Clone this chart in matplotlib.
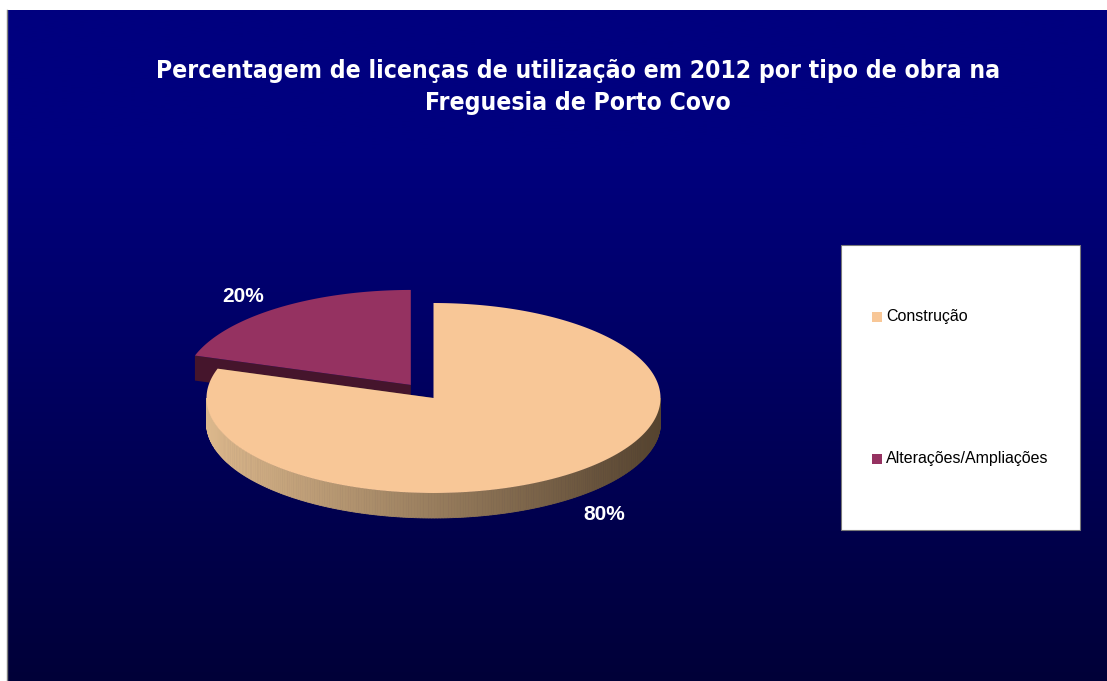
import numpy as np
import matplotlib
matplotlib.use("Agg")
import matplotlib.pyplot as plt
from matplotlib.patches import Polygon, Rectangle
from matplotlib import font_manager
from matplotlib.colors import to_rgb

# ---- data ----
categories = ["Construção", "Alterações/Ampliações"]
values = [80, 20]
pct_labels = ["80%", "20%"]
colors = ["#f8c797", "#953261"]
side_colors = [("#dcb88c", "#55432f"), ("#45152c", "#45152c")]
explode = [0.0, 0.17]
title = "Percentagem de licenças de utilização em 2012 por tipo de obra na\nFreguesia de Porto Covo"

fl = font_manager.fontManager.ttflist
cond = [f for f in fl if f.stretch in ("condensed", "semi-condensed", "extra-condensed",
                                       "ultra-condensed") or (isinstance(f.stretch, int) and f.stretch < 500)
        or "Narrow" in f.name or "Condensed" in f.name]
cond_names = sorted({f.name for f in cond})
title_kw = dict(family="Liberation Sans", fontsize=17.5)
if "Liberation Sans Narrow" in cond_names:
    title_kw = dict(family="Liberation Sans Narrow", fontsize=21)
elif any(f.name == "DejaVu Sans" for f in cond):
    title_kw = dict(family="DejaVu Sans", fontstretch="condensed", fontsize=17.7)

W, H = 1107, 681
fig = plt.figure(figsize=(W / 100, H / 100), dpi=100)
ax = fig.add_axes([0, 0, 1, 1])
ax.set_xlim(0, W)
ax.set_ylim(H, 0)
ax.axis("off")

# background
ax.add_patch(Rectangle((0, 0), W, H, color="white", zorder=0))
x0, y0 = 7, 10
ys = np.linspace(0, 1, 300)
top = np.array(to_rgb("#00007f"))
bot = np.array(to_rgb("#000038"))
t = np.clip((ys * (H - y0) - 140) / (H - y0 - 140), 0, 1)
grad = (top[None, :] * (1 - t[:, None]) + bot[None, :] * t[:, None])[:, None, :]
ax.imshow(grad, extent=(x0, W, H, y0), aspect="auto", zorder=1, interpolation="bilinear")
ax.plot([x0, x0], [y0, H], color="#808080", lw=1, zorder=1.5)

# pie geometry (pixel coordinates)
cx, cy = 433.5, 398
rx, ry = 227, 95
depth = 25


def pt(theta_deg, ox, oy):
    th = np.radians(theta_deg)
    return ox + rx * np.cos(th), oy - ry * np.sin(th)


total = float(sum(values))
start = 90.0
wedges = []
for i, v in enumerate(values):
    span = 360.0 * v / total
    t1 = start - span  # clockwise
    wedges.append((t1, start))
    start = t1

order = [1, 0]
for i in order:
    t1, t2 = wedges[i]
    mid = np.radians((t1 + t2) / 2)
    ox = cx + explode[i] * rx * np.cos(mid)
    oy = cy - explode[i] * ry * np.sin(mid)
    c_light = np.array(to_rgb(side_colors[i][0]))
    c_dark = np.array(to_rgb(side_colors[i][1]))
    z = 3 + (0 if i == 1 else 5)
    for ang in (t1, t2):
        px, py = pt(ang, ox, oy)
        quad = [(ox, oy), (px, py), (px, py + depth), (ox, oy + depth)]
        ax.add_patch(Polygon(quad, closed=True, facecolor=c_dark, edgecolor="none", zorder=z))
    angs = np.linspace(t1, t2, 400)
    for a, b in zip(angs[:-1], angs[1:]):
        am = (a + b) / 2 % 360
        if not (180 <= am <= 360):
            continue
        xa, ya = pt(a, ox, oy)
        xb, yb = pt(b, ox, oy)
        f = ((xa + xb) / 2 - (ox - rx)) / (2 * rx)
        col = c_light * (1 - f) + c_dark * f
        ax.add_patch(Polygon([(xa, ya), (xb, yb), (xb, yb + depth), (xa, ya + depth)],
                             closed=True, facecolor=col, edgecolor=col, lw=0.6, zorder=z + 1))
    angs = np.linspace(t1, t2, 300)
    pts = [(ox, oy)] + [pt(a, ox, oy) for a in angs]
    ax.add_patch(Polygon(pts, closed=True, facecolor=colors[i], edgecolor="none", zorder=z + 2))

# percentage labels
label_pos = {0: (604, 514), 1: (243, 297)}
for i, lab in enumerate(pct_labels):
    ax.text(*label_pos[i], lab, color="white", fontsize=15, fontweight="bold",
            family="Liberation Sans", ha="center", va="center", zorder=20)

# title
ax.text(578, 87, title, color="white", fontweight="bold",
        ha="center", va="center", linespacing=1.45, zorder=20, **title_kw)

# legend box
ax.add_patch(Rectangle((841, 245), 239, 285, facecolor="white", edgecolor="#7a7a7a", lw=0.8, zorder=20))
leg_y = [317, 459]
for i, cat in enumerate(categories):
    ax.add_patch(Rectangle((872, leg_y[i] - 5), 10, 10, facecolor=colors[i], edgecolor="none", zorder=21))
    ax.text(886, leg_y[i], cat, color="black", fontsize=11.5, family="Liberation Sans",
            ha="left", va="center", zorder=21)

fig.savefig("out.png", dpi=100)
